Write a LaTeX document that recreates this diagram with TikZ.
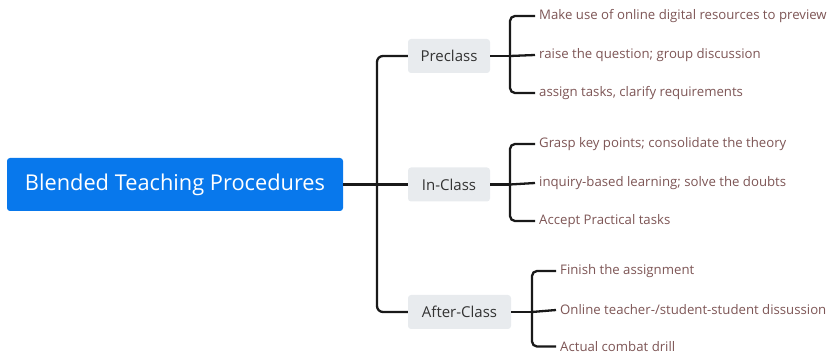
\documentclass[tikz,border=0pt]{standalone}
\usepackage{fontspec}
\setmainfont{Open Sans}
\usepackage{tikz}
\definecolor{rootblue}{RGB}{8,120,236}
\definecolor{branchgray}{RGB}{232,235,238}
\definecolor{leafbrown}{RGB}{125,85,85}
\definecolor{linedark}{RGB}{25,25,25}

\begin{document}
\begin{tikzpicture}[x=1pt,y=-1pt,
  rootbox/.style={fill=rootblue,text=white,rounded corners=3,minimum width=336,minimum height=53,font=\fontsize{21.8}{25}\selectfont},
  branchbox/.style={fill=branchgray,text=black!80,rounded corners=3,minimum height=34,inner xsep=9,font=\fontsize{15}{18}\selectfont},
  leaf/.style={anchor=west,text=leafbrown,inner sep=4,font=\fontsize{13.2}{16}\selectfont},
  link/.style={draw=linedark,line width=2.3}]
\useasboundingbox (0,0) rectangle (831,355);

\node[rootbox] (root) at (175,184.5) {Blended Teaching Procedures};
\node[branchbox,minimum width=82] (pre) at (449,56) {Preclass};
\node[branchbox,minimum width=82] (in) at (449,184.5) {In-Class};
\node[branchbox,minimum width=103] (after) at (459.5,312) {After-Class};

\node[leaf] (p1) at (535,16) {Make use of online digital resources to preview};
\node[leaf] (p2) at (535,55) {raise the question; group discussion};
\node[leaf] (p3) at (535,93) {assign tasks, clarify requirements};
\node[leaf] (i1) at (535,144) {Grasp key points; consolidate the theory};
\node[leaf] (i2) at (535,183) {inquiry-based learning; solve the doubts};
\node[leaf] (i3) at (535,221) {Accept Practical tasks};
\node[leaf] (a1) at (556,271) {Finish the assignment};
\node[leaf] (a2) at (556,310) {Online teacher-/student-student dissussion};
\node[leaf] (a3) at (556,346.5) {Actual combat drill};

\coordinate (trunk) at (377,184.5);
\draw[link] (root.east) -- (trunk);
\draw[link,rounded corners=6] (pre.west) -| (trunk) |- (after.west);
\draw[link] (trunk) -- (in.west);

\coordinate (preJ) at (510,56);
\draw[link] (pre.east) -- (preJ);
\draw[link,rounded corners=5] (p1.west) -| (preJ) |- (p3.west);
\draw[link] (preJ) -- (p2.west);

\coordinate (inJ) at (510,184.5);
\draw[link] (in.east) -- (inJ);
\draw[link,rounded corners=5] (i1.west) -| (inJ) |- (i3.west);
\draw[link] (inJ) -- (i2.west);

\coordinate (afterJ) at (532,312);
\draw[link] (after.east) -- (afterJ);
\draw[link,rounded corners=5] (a1.west) -| (afterJ) |- (a3.west);
\draw[link] (afterJ) -- (a2.west);

\end{tikzpicture}
\end{document}
